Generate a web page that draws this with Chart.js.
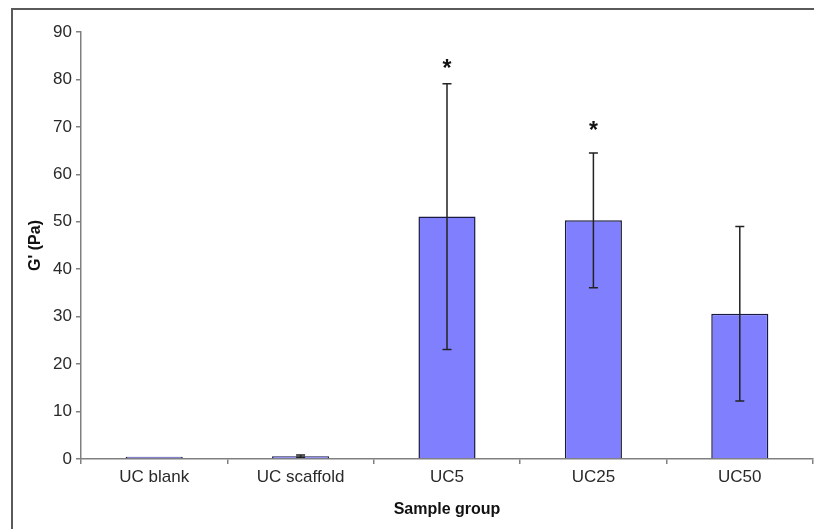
<!DOCTYPE html>
<html>
<head>
<meta charset="utf-8">
<script src="https://cdn.jsdelivr.net/npm/chart.js@4.4.1/dist/chart.umd.min.js"></script>
<style>
  html, body { margin: 0; padding: 0; background: #fff; }
  #wrap { width: 814px; height: 529px; }
</style>
</head>
<body>
<div id="wrap"><canvas id="myChart" width="814" height="529"></canvas></div>
<script>
// values
var groups = ['UC blank', 'UC scaffold', 'UC5', 'UC25', 'UC50'];
var meanG = [0.5, 0.6, 51.1, 50.3, 30.6];
var sdG = [0, 0.25, 28.0, 14.2, 18.4];
// where the significance stars sit (in Pa), null = no star
var starAt = [null, null, 83.5, 70.5, null];

var errorBarPlugin = {
    id: 'errorBars',
    afterDatasetsDraw: function (chart) {
        var ctx = chart.ctx;
        var meta = chart.getDatasetMeta(0);
        var y = chart.scales.y;
        ctx.save();
        ctx.strokeStyle = '#222';
        ctx.lineWidth = 1.5;
        for (var i = 0; i < meanG.length; i++) {
            if (!sdG[i]) continue;
            var xp = meta.data[i].x;
            var top = y.getPixelForValue(meanG[i] + sdG[i]);
            var bot = y.getPixelForValue(meanG[i] - sdG[i]);
            ctx.beginPath();
            ctx.moveTo(xp, top);
            ctx.lineTo(xp, bot);
            ctx.moveTo(xp - 4.5, top);
            ctx.lineTo(xp + 4.5, top);
            ctx.moveTo(xp - 4.5, bot);
            ctx.lineTo(xp + 4.5, bot);
            ctx.stroke();
        }
        // stars
        ctx.fillStyle = '#111';
        ctx.textAlign = 'center';
        ctx.textBaseline = 'alphabetic';
        var size = 23;
        ctx.font = 'bold ' + size + 'px "Liberation Sans", Arial, sans-serif';
        for (var i = 0; i < starAt.length; i++) {
            if (starAt[i] === null) continue;
            var sx = meta.data[i].x;
            var sy = y.getPixelForValue(starAt[i]) + 0.58 * size;
            ctx.fillText('*', sx, sy);
        }
        ctx.restore();
    },
    afterDraw: function (chart) {
        // outer frame of the figure
        var ctx = chart.ctx;
        ctx.save();
        ctx.strokeStyle = '#5a5a5a';
        ctx.lineWidth = 2;
        ctx.strokeRect(12, 9, 830, 540);
        ctx.restore();
    }
};

function plot() {
    var ctx = document.getElementById('myChart').getContext('2d');
    var data = {
        labels: groups,
        datasets: [{
            label: "G' (Pa)",
            data: meanG,
            backgroundColor: '#8080ff',
            borderColor: '#1a1a40',
            borderWidth: 1.5,
            categoryPercentage: 1.0,
            barPercentage: 0.39
        }]
    };
    var config = {
        type: 'bar',
        data: data,
        options: {
            responsive: false,
            animation: false,
            devicePixelRatio: 1,
            layout: { padding: { left: 0, top: 32, right: 1, bottom: 0 } },
            plugins: {
                legend: { display: false },
                tooltip: { enabled: false }
            },
            scales: {
                x: {
                    afterFit: function (s) { s.height = 70; },
                    grid: {
                        offset: true,
                        drawOnChartArea: false,
                        tickLength: 5,
                        color: '#808080',
                        lineWidth: 1.5
                    },
                    border: { color: '#808080', width: 1.5 },
                    ticks: {
                        color: '#2a2a2a',
                        padding: 3,
                        font: { family: '"Liberation Sans", Arial, sans-serif', size: 17 }
                    },
                    title: {
                        display: true,
                        text: 'Sample group',
                        color: '#111',
                        padding: { top: 4, bottom: 10 },
                        font: { family: '"Liberation Sans", Arial, sans-serif', size: 16, weight: 'bold' }
                    }
                },
                y: {
                    min: 0,
                    max: 90,
                    afterFit: function (s) { s.width = 81; },
                    grid: {
                        drawOnChartArea: false,
                        tickLength: 5,
                        color: '#808080',
                        lineWidth: 1.5
                    },
                    border: { color: '#808080', width: 1.5 },
                    ticks: {
                        stepSize: 10,
                        color: '#2a2a2a',
                        padding: 4,
                        font: { family: '"Liberation Sans", Arial, sans-serif', size: 17 }
                    },
                    title: {
                        display: true,
                        text: "G' (Pa)",
                        color: '#111',
                        padding: { top: 26, bottom: 0 },
                        font: { family: '"Liberation Sans", Arial, sans-serif', size: 16, weight: 'bold' }
                    }
                }
            }
        },
        plugins: [errorBarPlugin]
    };
    plot.myChart = new Chart(ctx, config);
}
plot();
</script>
</body>
</html>
